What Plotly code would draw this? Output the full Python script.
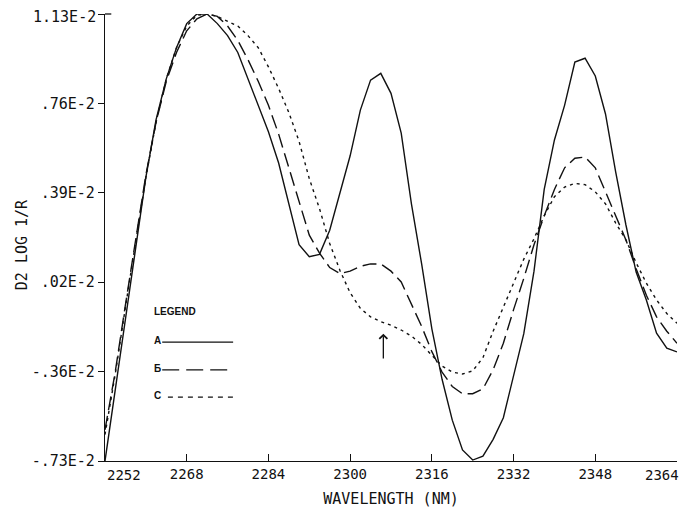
import plotly.graph_objects as go

# Wavelength (nm), sampled every 2 nm
wavelength = list(range(2252, 2366, 2))

# Second derivative log(1/R), units of 1E-2
curve_a = [-0.73, -0.43, -0.13, 0.16, 0.45, 0.69, 0.86, 0.99, 1.09, 1.13,
           1.13, 1.09, 1.04, 0.97, 0.86, 0.75, 0.64, 0.51, 0.335, 0.17,
           0.12, 0.13, 0.23, 0.38, 0.54, 0.73, 0.855, 0.883, 0.80, 0.634,
           0.34, 0.09, -0.18, -0.39, -0.56, -0.684, -0.726, -0.71, -0.64, -0.55,
           -0.38, -0.20, 0.06, 0.40, 0.606, 0.751, 0.93, 0.946, 0.872, 0.714,
           0.472, 0.252, 0.056, -0.06, -0.198, -0.26, -0.276]
curve_b = [-0.60, -0.36, -0.08, 0.20, 0.46, 0.68, 0.85, 0.97, 1.06, 1.11,
           1.13, 1.12, 1.08, 1.02, 0.94, 0.85, 0.75, 0.63, 0.49, 0.34,
           0.21, 0.135, 0.075, 0.05, 0.06, 0.08, 0.09, 0.09, 0.06, 0.015,
           -0.075, -0.17, -0.275, -0.36, -0.42, -0.45, -0.45, -0.43, -0.35, -0.24,
           -0.10, 0.03, 0.17, 0.29, 0.40, 0.49, 0.53, 0.535, 0.49, 0.39,
           0.29, 0.19, 0.07, -0.04, -0.13, -0.19, -0.24]
curve_c = [-0.62, -0.37, -0.09, 0.19, 0.45, 0.68, 0.86, 0.99, 1.08, 1.125,
           1.13, 1.12, 1.10, 1.08, 1.04, 0.99, 0.91, 0.82, 0.72, 0.60,
           0.445, 0.32, 0.175, 0.063, -0.03, -0.095, -0.13, -0.15, -0.165, -0.185,
           -0.21, -0.245, -0.29, -0.335, -0.36, -0.368, -0.355, -0.30, -0.19, -0.09,
           0.017, 0.11, 0.195, 0.29, 0.37, 0.41, 0.425, 0.42, 0.39, 0.34,
           0.26, 0.19, 0.095, 0.01, -0.06, -0.116, -0.157]

x_ticks = [2252, 2268, 2284, 2300, 2316, 2332, 2348, 2364]
x_tick_text = ["2252", "2268", "2284", "2300", "2316", "2332", "2348", "2364"]
y_ticks = [-0.73, -0.358, 0.014, 0.386, 0.758, 1.13]
y_tick_text = ["-.73E-2", "-.36E-2", ".02E-2", ".39E-2", ".76E-2", "1.13E-2"]

x_title = "WAVELENGTH (NM)"
y_title = "D2 LOG 1/R"
legend_labels = ["A", "\u0411", "C"]

# arrow marking the shoulder (wavelength, tail value, head value)
arrow_wl, arrow_tail, arrow_head = 2306.5, -0.31, -0.20

BLACK = "#111111"
MONO = "DejaVu Sans Mono"
TICKFONT_X = dict(family=MONO, size=14, color=BLACK)
TICKFONT_Y = dict(family=MONO, size=15, color=BLACK)

fig = go.Figure()
fig.add_trace(go.Scatter(x=wavelength, y=curve_a, mode="lines",
                         line=dict(color=BLACK, width=1.4), name="A"))
fig.add_trace(go.Scatter(x=wavelength, y=curve_b, mode="lines",
                         line=dict(color=BLACK, width=1.4, dash="14px,6px"), name="B"))
fig.add_trace(go.Scatter(x=wavelength, y=curve_c, mode="lines",
                         line=dict(color=BLACK, width=1.4, dash="3px,4px"), name="C"))

fig.add_annotation(x=arrow_wl, y=arrow_head, ax=arrow_wl, ay=arrow_tail,
                   xref="x", yref="y", axref="x", ayref="y", text="",
                   showarrow=True, arrowhead=4, arrowsize=1.2, arrowwidth=1.3,
                   arrowcolor=BLACK)

# end tick labels are drawn inside the axis span, as in the original plot
axis_x_text = list(x_tick_text)
axis_x_text[0] = ""
axis_x_text[-1] = ""
fig.add_annotation(x=x_ticks[0], y=0, xref="x", yref="paper", text=x_tick_text[0],
                   showarrow=False, xanchor="left", yanchor="top", yshift=-4,
                   font=TICKFONT_X)
fig.add_annotation(x=x_ticks[-1], y=0, xref="x", yref="paper", text=x_tick_text[-1],
                   showarrow=False, xanchor="right", yanchor="top", yshift=-4, xshift=4,
                   font=TICKFONT_X)
axis_y_text = list(y_tick_text)
axis_y_text[-1] = ""
fig.add_annotation(x=0, y=y_ticks[-1], xref="paper", yref="y", text=y_tick_text[-1],
                   showarrow=False, xanchor="right", yanchor="middle", xshift=-7,
                   yshift=-3, font=TICKFONT_Y)

# y axis title placed as rotated text
fig.add_annotation(x=-0.145, y=0.483, xref="paper", yref="paper", text=y_title,
                   textangle=-90, showarrow=False, xanchor="center", yanchor="middle",
                   font=dict(family=MONO, size=15, color=BLACK))

# hand-drawn style legend
fig.add_annotation(x=0.083, y=0.334, xref="paper", yref="paper", text="<b>LEGEND</b>",
                   showarrow=False, xanchor="left", yanchor="middle",
                   font=dict(family="Liberation Sans", size=10, color=BLACK))
leg_y = [0.266, 0.204, 0.143]
leg_x0 = [0.100, 0.100, 0.110]
leg_dash = ["solid", "17px,7px", "5px,5px"]
for lab, yy, x0, dsh in zip(legend_labels, leg_y, leg_x0, leg_dash):
    fig.add_annotation(x=0.083, y=yy + 0.003, xref="paper", yref="paper",
                       text="<b>" + lab + "</b>", showarrow=False,
                       xanchor="left", yanchor="middle",
                       font=dict(family="Liberation Sans", size=10, color=BLACK))
    fig.add_shape(type="line", xref="paper", yref="paper", x0=x0, x1=0.224,
                  y0=yy, y1=yy, line=dict(color=BLACK, width=1.2, dash=dsh))

# small top bracket on the y axis
fig.add_shape(type="line", xref="paper", yref="paper", x0=0, x1=0.011, y0=1, y1=1,
              line=dict(color=BLACK, width=1.3))

# page has an 8px body margin, so the figure is sized to fill the rest of the window
fig.update_layout(
    width=681, height=500,
    margin=dict(l=97, r=12, t=6, b=47, autoexpand=False),
    paper_bgcolor="white", plot_bgcolor="white",
    showlegend=False,
    font=dict(family=MONO, color=BLACK),
)
fig.update_xaxes(range=[2252, 2364], tickvals=x_ticks, ticktext=axis_x_text,
                 automargin=False,
                 ticks="inside", ticklen=7, tickwidth=1.3, tickcolor=BLACK,
                 showline=True, linecolor=BLACK, linewidth=1.3,
                 showgrid=False, zeroline=False,
                 tickfont=TICKFONT_X,
                 title=dict(text=x_title, standoff=14,
                            font=dict(family=MONO, size=15, color=BLACK)))
fig.update_yaxes(range=[-0.73, 1.13], tickvals=y_ticks, ticktext=axis_y_text,
                 automargin=False,
                 ticks="outside", ticklen=6, tickwidth=1.3, tickcolor=BLACK,
                 showline=True, linecolor=BLACK, linewidth=1.3,
                 showgrid=False, zeroline=False,
                 tickfont=TICKFONT_Y)

fig.write_html("out.html")
